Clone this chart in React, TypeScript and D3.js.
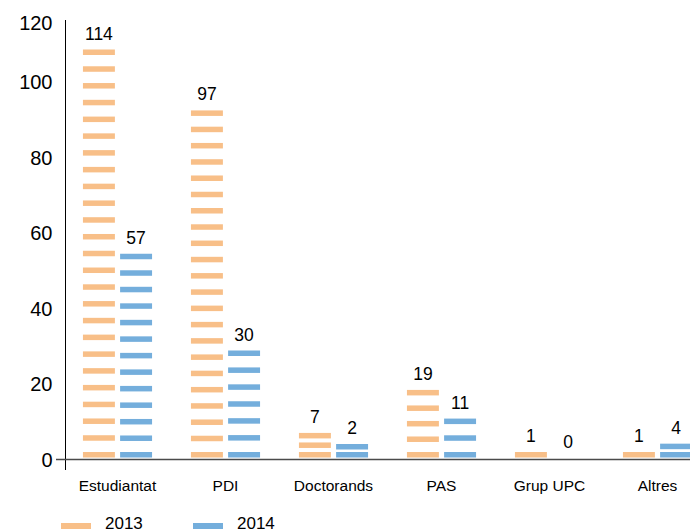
import React, { useEffect, useRef } from "react";
import * as d3 from "d3";

const categories = ["Estudiantat", "PDI", "Doctorands", "PAS", "Grup UPC", "Altres"];
const values2013 = [114, 97, 7, 19, 1, 1];
const values2014 = [57, 30, 2, 11, 0, 4];
const years = ["2013", "2014"];
const yTicks = [0, 20, 40, 60, 80, 100, 120];

const colors = ["#f8bf88", "#74aedc"];

export default function App() {
  const ref = useRef<SVGSVGElement>(null);

  useEffect(() => {
    document.body.style.margin = "0";
    const svg = d3.select(ref.current);
    svg.selectAll("*").remove();

    const font = "'Liberation Sans', Arial, Helvetica, sans-serif";
    const baseY = 458;

    // axis scale (labels) and bar scale are slightly different in the original
    const yAxis = d3.scaleLinear().domain([0, 120]).range([459.5, 7]);
    const yBar = d3.scaleLinear().domain([0, 120]).range([baseY, baseY - 430]);

    const x0 = d3.scaleBand().domain(categories).range([63.5, 711.5]).paddingInner(0.36).paddingOuter(0.18);
    const x1 = d3.scaleBand().domain(years).range([0, x0.bandwidth()]).paddingInner(0.14);

    // y axis
    svg.append("line")
      .attr("x1", 65.5).attr("x2", 65.5).attr("y1", 20).attr("y2", 470)
      .attr("stroke", "#000").attr("stroke-width", 1);

    svg.selectAll(".ytick").data(yTicks).join("text")
      .attr("class", "ytick")
      .attr("x", 52.5)
      .attr("y", d => Math.max(yAxis(d), 23))
      .attr("dy", "0.35em")
      .attr("text-anchor", "end")
      .attr("font-family", font)
      .attr("font-size", 20)
      .attr("fill", "#000")
      .text(d => d);

    const series = [values2013, values2014];

    series.forEach((vals, si) => {
      vals.forEach((v, ci) => {
        const bx = (x0(categories[ci]) as number) + (x1(years[si]) as number);
        const bw = x1.bandwidth();
        const g = svg.append("g");
        let top = baseY;
        if (v > 0) {
          let h = Math.max(6, baseY - yBar(v));
          const n = Math.ceil((h - 6) / 17) + 1;
          h = Math.max(h, 6 + (n - 1) * 8);
          const step = n > 1 ? (h - 6) / (n - 1) : 0;
          g.selectAll("rect").data(d3.range(n)).join("rect")
            .attr("x", bx)
            .attr("y", i => baseY - 6 - i * step)
            .attr("width", bw)
            .attr("height", 5.5)
            .attr("fill", colors[si]);
          top = baseY - h;
        }
        g.append("text")
          .attr("x", bx + bw / 2)
          .attr("y", top - 10)
          .attr("text-anchor", "middle")
          .attr("font-family", font)
          .attr("font-size", 17.5)
          .attr("fill", "#000")
          .text(v);
      });
    });

    // x axis
    svg.append("line")
      .attr("x1", 56).attr("x2", 690).attr("y1", 459.5).attr("y2", 459.5)
      .attr("stroke", "#4a4a4a").attr("stroke-width", 1.6);

    svg.selectAll(".xlab").data(categories).join("text")
      .attr("class", "xlab")
      .attr("x", d => (x0(d) as number) + x0.bandwidth() / 2)
      .attr("y", 491)
      .attr("text-anchor", "middle")
      .attr("font-family", font)
      .attr("font-size", 15.5)
      .attr("fill", "#000")
      .text(d => d);

    // legend
    const lg = svg.selectAll(".leg").data(years).join("g")
      .attr("class", "leg")
      .attr("transform", (_, i) => `translate(${61 + i * 132}, 0)`);
    lg.append("rect").attr("x", 0).attr("y", 523).attr("width", 30).attr("height", 6)
      .attr("fill", (_, i) => colors[i]);
    lg.append("text").attr("x", 44).attr("y", 529)
      .attr("font-family", font).attr("font-size", 17).attr("fill", "#000")
      .text(d => d);
  }, []);

  return <svg ref={ref} width={690} height={532} style={{ display: "block" }}></svg>;
}
